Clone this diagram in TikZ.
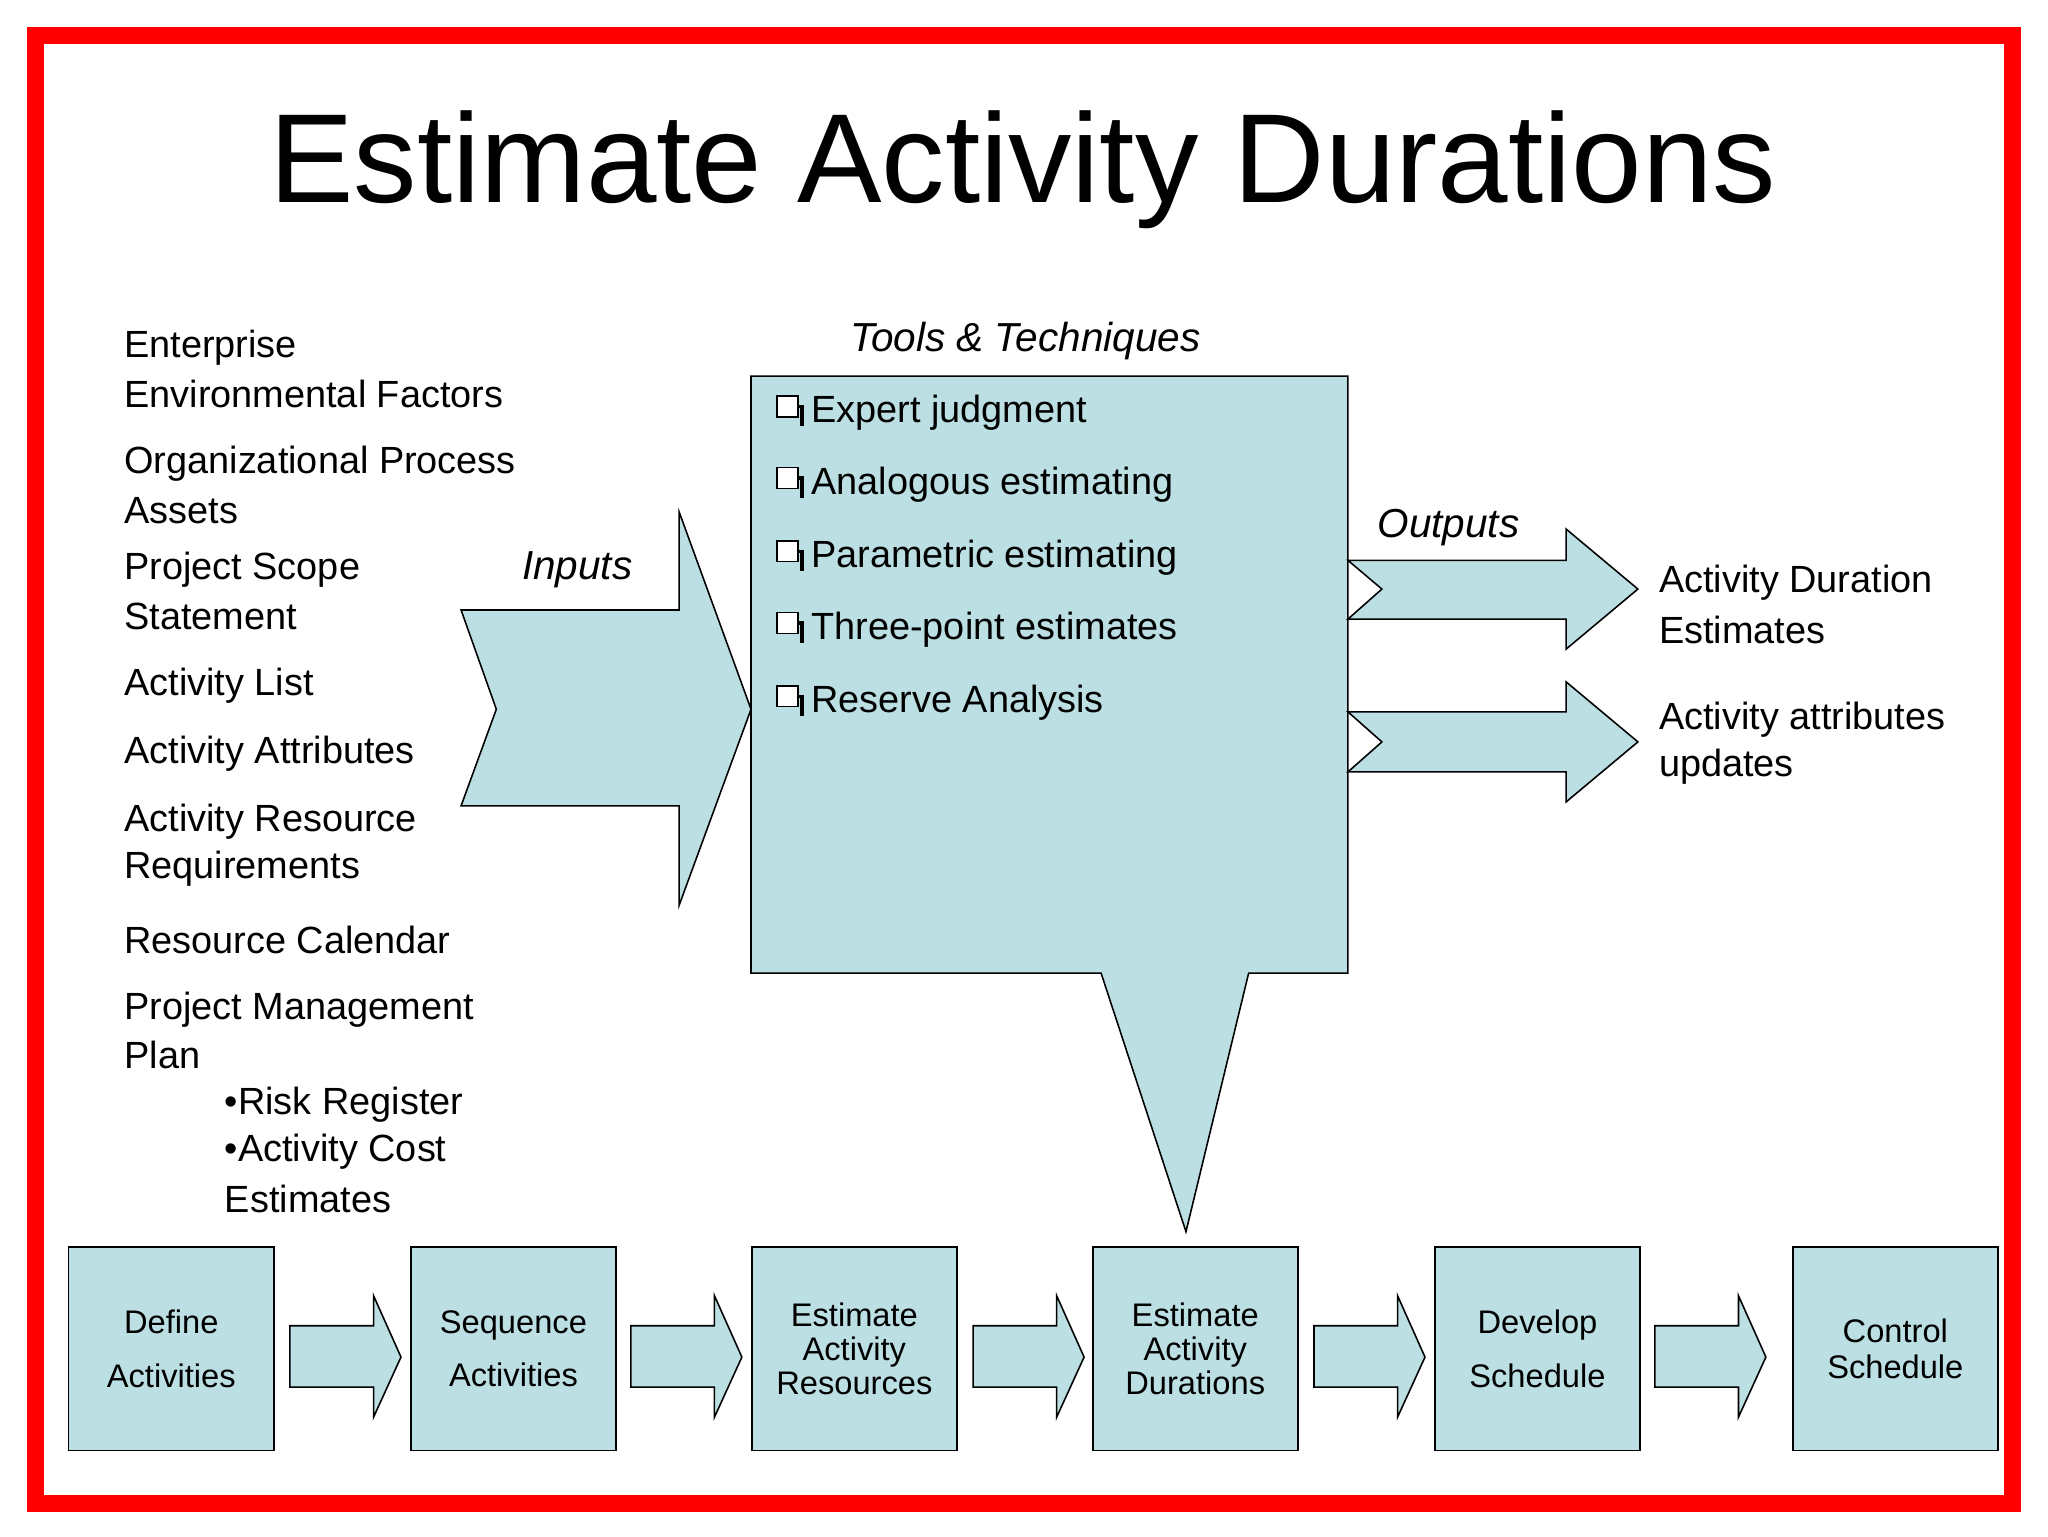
\documentclass[tikz,border=0pt]{standalone}
\usepackage{fontspec}
\setmainfont{Liberation Sans}
\begin{document}
\begin{tikzpicture}[x=1pt,y=-1pt,
  shp/.style={draw=black,fill=cyan!10!teal!15!white,fill=lblue,line width=1.2pt},
  lt/.style={anchor=west,font=\fontsize{29}{35}\selectfont,inner sep=0},
  bx/.style={draw=black,fill=lblue,line width=1.2pt,minimum width=157pt,minimum height=156pt,anchor=north west,align=center,font=\fontsize{25}{31}\selectfont},
  cb/.style={draw=black,line width=1.3pt}]
\definecolor{lblue}{HTML}{BCDFE3}
\useasboundingbox (0,0) rectangle (1568,1176);
\fill[white] (0,0) rectangle (1568,1176);
\draw[red,line width=13pt] (27,27) rectangle (1541,1151);
\node[font=\fontsize{97}{110}\selectfont] (title) at (783,130) {Estimate Activity Durations};
% left inputs
\node[lt] (l1) at (95,266) {Enterprise};
\node[lt] (l2) at (95,302) {Environmental Factors};
\node[lt] (l3) at (95,355) {Organizational Process};
\node[lt] (l4) at (95,391) {Assets};
\node[lt] (l5) at (95,436) {Project Scope};
\node[lt] (l6) at (95,472) {Statement};
\node[lt] (l7) at (95,525) {Activity List};
\node[lt] (l8) at (95,577) {Activity Attributes};
\node[lt] (l9) at (95,629) {Activity Resource};
\node[lt] (l10) at (95,665) {Requirements};
\node[lt] (l11) at (95,720) {Resource Calendar};
\node[lt] (l12) at (95,773) {Project Management};
\node[lt] (l13) at (95,808) {Plan};
\node[lt] (l14) at (172,846) {•Risk Register};
\node[lt] (l15) at (172,882) {•Activity Cost};
\node[lt] (l16) at (172,918) {Estimates};
% inputs arrow
\draw[shp] (353,467)--(520,467)--(520,392)--(575,543)--(520,693)--(520,617)--(353,617)--(380,543)--cycle;
\node[font=\itshape\fontsize{31}{36}\selectfont] (inp) at (442,436) {Inputs};
% tools box
\draw[shp] (575,288)--(1032,288)--(1032,745)--(956,745)--(908,943)--(843,745)--(575,745)--cycle;
\node[font=\itshape\fontsize{31}{36}\selectfont] (tt) at (785,261) {Tools \& Techniques};
\foreach \y/\t in {316/Expert judgment,371/Analogous estimating,427/Parametric estimating,482/Three-point estimates,538/Reserve Analysis}{
  \draw[line width=2.5pt] (598,\y-5)--(614,\y-5)--(614,\y+10);
  \draw[cb,fill=white] (595,\y-13) rectangle (611,\y+3);
  \node[lt] at (621,\y) {\t};
}
% outputs
\draw[shp] (1032,429)--(1199,429)--(1199,405)--(1254,451)--(1199,497)--(1199,474)--(1032,474)--(1058,451)--cycle;
\draw[shp] (1032,545)--(1199,545)--(1199,522)--(1254,568)--(1199,614)--(1199,591)--(1032,591)--(1058,568)--cycle;
\node[font=\itshape\fontsize{31}{36}\selectfont] (out) at (1109,404) {Outputs};
\node[lt] (o1) at (1270,446) {Activity Duration};
\node[lt] (o2) at (1270,482) {Estimates};
\node[lt] (o3) at (1270,551) {Activity attributes};
\node[lt] (o4) at (1270,587) {updates};
% bottom process
\node[bx] (b1) at (52,954) {Define\\[10pt]Activities};
\node[bx] (b2) at (314,954) {Sequence\\[10pt]Activities};
\node[bx] (b3) at (575,954) {Estimate\\[-5pt]Activity\\[-5pt]Resources};
\node[bx] (b4) at (836,954) {Estimate\\[-5pt]Activity\\[-5pt]Durations};
\node[bx] (b5) at (1098,954) {Develop\\[10pt]Schedule};
\node[bx] (b6) at (1372,954) {Control\\[-4pt]Schedule};
\foreach \a in {222,483,745,1006,1267}{
  \draw[shp] (\a,1015)--(\a+64,1015)--(\a+64,992)--(\a+85,1039)--(\a+64,1085)--(\a+64,1062)--(\a,1062)--cycle;
}
\end{tikzpicture}
\end{document}
